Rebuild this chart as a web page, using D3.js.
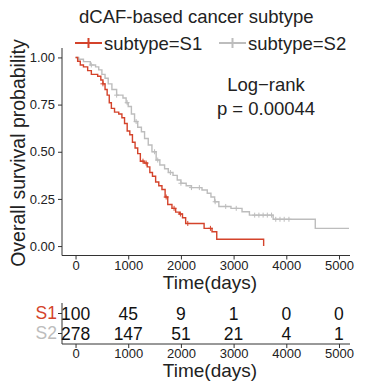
<!DOCTYPE html>
<html>
<head>
<meta charset="utf-8">
<script src="https://cdn.jsdelivr.net/npm/d3@7"></script>
<style>
  body { margin: 0; background: #fff; }
  text { font-family: "Liberation Sans", Arial, sans-serif; }
</style>
</head>
<body>
<svg width="366" height="391"></svg>
<script>
// Kaplan-Meier knots: [time, survival]
const s1Times = [0, 40, 90, 150, 230, 300, 420, 480, 520, 560, 600, 640, 680, 740, 820, 880, 930, 980, 1030, 1080, 1130, 1180, 1230, 1300, 1360, 1410, 1460, 1520, 1580, 1640, 1700, 1750, 1830, 1900, 1970, 2030, 2090, 2440, 2590, 2680, 3570];
const s1Surv  = [1.0, 0.98, 0.96, 0.95, 0.93, 0.91, 0.90, 0.88, 0.86, 0.83, 0.80, 0.76, 0.73, 0.71, 0.70, 0.68, 0.65, 0.61, 0.59, 0.55, 0.52, 0.49, 0.45, 0.44, 0.42, 0.39, 0.37, 0.34, 0.32, 0.30, 0.26, 0.22, 0.20, 0.18, 0.17, 0.15, 0.12, 0.094, 0.076, 0.036, 0.0];
const s2Times = [0, 60, 150, 280, 380, 440, 500, 560, 620, 690, 780, 900, 960, 1000, 1060, 1120, 1180, 1250, 1310, 1380, 1450, 1530, 1600, 1690, 1760, 1850, 1930, 2000, 2100, 2200, 2400, 2500, 2570, 2640, 2720, 2950, 3160, 3300, 3750, 4550, 5190];
const s2Surv  = [1.0, 0.99, 0.978, 0.96, 0.95, 0.934, 0.91, 0.89, 0.86, 0.83, 0.80, 0.785, 0.76, 0.74, 0.70, 0.66, 0.63, 0.606, 0.57, 0.536, 0.50, 0.456, 0.43, 0.41, 0.39, 0.375, 0.35, 0.333, 0.32, 0.31, 0.297, 0.28, 0.26, 0.235, 0.21, 0.20, 0.182, 0.164, 0.142, 0.094, 0.094];

// censoring times
const s1Censor = [520, 1280, 1340, 1720, 1870, 1990, 2130, 2560];
const s2Censor = [300, 780, 980, 1150, 1500, 1560, 1800, 2000, 2200, 2350, 2650, 2850, 3050, 3400, 3480, 3560, 3640, 3720, 3800, 3880, 3960, 4050];

// number at risk table
const riskTimes = [0, 1000, 2000, 3000, 4000, 5000];
const riskS1 = [100, 45, 9, 1, 0, 0];
const riskS2 = [278, 147, 51, 21, 4, 1];

const yTicks = [0, 0.25, 0.5, 0.75, 1];
const xTicks = [0, 1000, 2000, 3000, 4000, 5000];

const red = "#d4432b", grey = "#bdbdbd";

const svg = d3.select("svg");

const x = d3.scaleLinear().domain([-257, 5209]).range([62, 350]);
const y = d3.scaleLinear().domain([-0.05, 1.05]).range([255.5, 48]);

// title + legend
svg.append("text").attr("x", 79).attr("y", 23).attr("font-size", 18.5).attr("fill", "#222")
  .text("dCAF-based cancer subtype");

function legendKey(x0, col, label) {
  svg.append("line").attr("x1", x0).attr("x2", x0 + 27).attr("y1", 43).attr("y2", 43)
    .attr("stroke", col).attr("stroke-width", 2);
  svg.append("line").attr("x1", x0 + 13.5).attr("x2", x0 + 13.5).attr("y1", 38).attr("y2", 48)
    .attr("stroke", col).attr("stroke-width", 2);
  svg.append("text").attr("x", x0 + 29).attr("y", 49.5).attr("font-size", 18.5).attr("fill", "#222")
    .text(label);
}
legendKey(75, red, "subtype=S1");
legendKey(219, grey, "subtype=S2");

// axes
const g = svg.append("g");
g.append("g").attr("transform", "translate(62,0)")
  .call(d3.axisLeft(y).tickValues(yTicks).tickFormat(d3.format(".2f")).tickSize(4).tickPadding(3))
  .call(a => a.select(".domain").attr("d", "M0,48V255.5"));
g.append("g").attr("transform", "translate(0,255.5)")
  .call(d3.axisBottom(x).tickValues(xTicks).tickFormat(d3.format("d")).tickSize(4).tickPadding(1))
  .call(a => a.select(".domain").attr("d", "M62,0H350"));
g.selectAll(".tick text").attr("font-size", 13).attr("fill", "#222")
  .attr("font-family", "Liberation Sans, Arial, sans-serif");
g.selectAll(".domain, .tick line").attr("stroke", "#333");

svg.append("text").attr("transform", "translate(25,153) rotate(-90)").attr("text-anchor", "middle")
  .attr("font-size", 19.5).attr("fill", "#222").text("Overall survival probability");
svg.append("text").attr("x", 210).attr("y", 289).attr("text-anchor", "middle")
  .attr("font-size", 19).attr("fill", "#222").text("Time(days)");

// curves
const line = d3.line().x(d => x(d[0])).y(d => y(d[1])).curve(d3.curveStepAfter);
function survAt(times, surv, t) {
  const i = d3.bisectRight(times, t) - 1;
  return surv[Math.max(0, i)];
}
function drawCurve(times, surv, cens, col) {
  const pts = times.map((t, i) => [t, surv[i]]);
  svg.append("path").datum(pts).attr("d", line).attr("fill", "none")
    .attr("stroke", col).attr("stroke-width", 1.4);
  const c = svg.append("g");
  cens.forEach(t => {
    const cx = x(t), cy = y(survAt(times, surv, t));
    c.append("path").attr("d", `M${cx - 2.5},${cy}H${cx + 2.5}M${cx},${cy - 2.5}V${cy + 2.5}`)
      .attr("stroke", col).attr("stroke-width", 1);
  });
}
drawCurve(s2Times, s2Surv, s2Censor, grey);
drawCurve(s1Times, s1Surv, s1Censor, red);

// log-rank annotation
svg.append("text").attr("x", 266).attr("y", 91).attr("text-anchor", "middle")
  .attr("font-size", 18.5).attr("fill", "#222").text("Log\u2212rank");
svg.append("text").attr("x", 266).attr("y", 115).attr("text-anchor", "middle")
  .attr("font-size", 18.5).attr("fill", "#222").text("p = 0.00044");

// risk table
const rowY = d3.scalePoint().domain(["S1", "S2"]).range([313, 333]);
const t = svg.append("g");
t.append("g").attr("transform", "translate(0,344)")
  .call(d3.axisBottom(x).tickValues(xTicks).tickFormat(d3.format("d")).tickSize(4).tickPadding(1))
  .call(a => a.select(".domain").attr("d", "M62,0H350"))
  .call(a => a.selectAll(".tick text").attr("font-size", 13).attr("fill", "#222"));
t.append("g").attr("transform", "translate(62,0)")
  .call(d3.axisLeft(rowY).tickSize(4).tickPadding(1))
  .call(a => a.select(".domain").attr("d", "M0,303V344"))
  .call(a => a.selectAll(".tick text").attr("font-size", 17.5)
    .attr("fill", d => d === "S1" ? red : grey));
t.selectAll(".tick text").attr("font-family", "Liberation Sans, Arial, sans-serif");
t.selectAll(".domain, .tick line").attr("stroke", "#333");

[["S1", riskS1], ["S2", riskS2]].forEach(([k, vals]) => {
  t.selectAll(null).data(vals).join("text")
    .attr("x", (d, i) => x(riskTimes[i])).attr("y", rowY(k) + 6.5)
    .attr("text-anchor", "middle").attr("font-size", 17.5).attr("fill", "#111")
    .text(d => d);
});
svg.append("text").attr("x", 210).attr("y", 377).attr("text-anchor", "middle")
  .attr("font-size", 19).attr("fill", "#222").text("Time(days)");
</script>
</body>
</html>
